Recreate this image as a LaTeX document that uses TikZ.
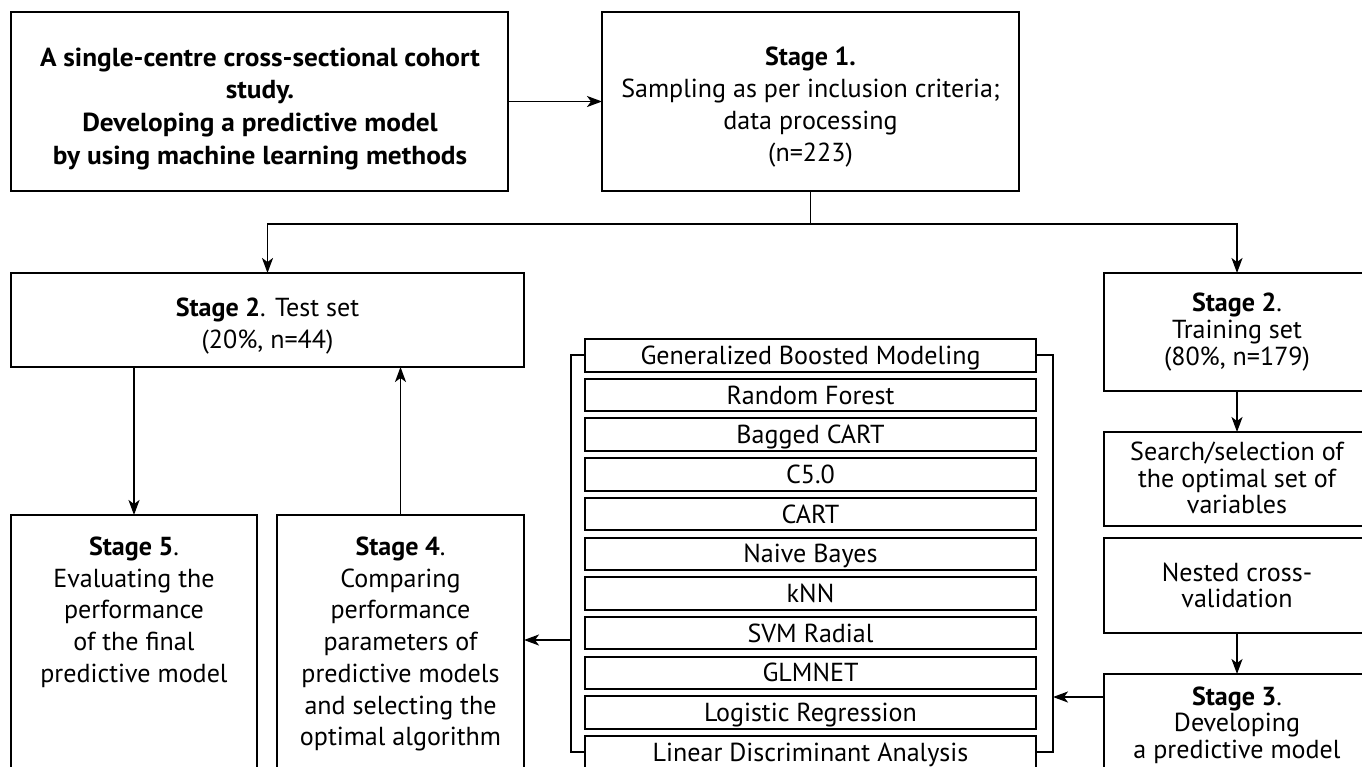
\documentclass[tikz,border=0pt]{standalone}
\usepackage{fontspec}
\setmainfont{PT Sans}
\usepackage{graphicx}
\usetikzlibrary{arrows.meta}
\newdimen\reflen
\newcommand\mylines[2]{{\fontsize{\fs}{#1}\selectfont\begin{tabular}[t]{@{}c@{}}#2\end{tabular}}}
\AtBeginDocument{%
  \settowidth\reflen{\normalfont\fontsize{20}{24}\selectfont Generalized Boosted Modeling}%
  \pgfmathsetmacro\fs{20*340/\the\reflen}%
  \pgfmathsetmacro\capht{0.7*\fs}%
  \settowidth\reflen{\normalfont\fontsize{\fs}{24}\selectfont\bfseries A single-centre cross-sectional cohort}%
  \pgfmathsetmacro\sxA{440/\the\reflen}%
}
\tikzset{
  box/.style={draw, line width=2pt, inner sep=0pt, outer sep=0pt, anchor=north west, rectangle},
  txt/.style={anchor=base, inner sep=0pt, outer sep=0pt},
  conn/.style={line width=1.8pt},
  arr/.style={conn, -{Stealth[length=15pt,width=11pt,inset=4pt]}},
  row/.style={draw, line width=2pt, inner sep=0pt, outer sep=0pt, minimum width=451pt, minimum height=32.5pt, anchor=north, text height=\capht pt, text depth=0pt, font=\fontsize{\fs}{\fs}\selectfont},
}
\begin{document}
\begin{tikzpicture}[x=1pt,y=-1pt]
\useasboundingbox (0,0) rectangle (1362,766);
\fill[white] (0,0) rectangle (1362,766);
\clip (0,0) rectangle (1362,766);
% boxes
\node[box, minimum width=497pt, minimum height=179pt] (A) at (11,12) {};
\node[box, minimum width=417pt, minimum height=179pt] (S1) at (602,12) {};
\node[box, minimum width=513pt, minimum height=94pt] (test) at (11,273) {};
\node[box, minimum width=266pt, minimum height=118pt] (train) at (1104,273) {};
\node[box, minimum width=266pt, minimum height=94pt] (search) at (1104,432) {};
\node[box, minimum width=266pt, minimum height=95pt] (nested) at (1104,538) {};
\node[box, minimum width=266pt, minimum height=130pt] (S3) at (1104,674) {};
\node[box, minimum width=247pt, minimum height=290pt] (S4) at (277,515) {};
\node[box, minimum width=246pt, minimum height=290pt] (S5) at (11,515) {};
% texts
\node[txt] (At) at (260,66) {\scalebox{\sxA}[1]{\bfseries\mylines{32.7}{A single-centre cross-sectional cohort\\study.\\Developing a predictive model\\by using machine learning methods}}};
\node[txt] (S1t) at (810.5,65.5) {\mylines{32}{\textbf{Stage 1.}\\Sampling as per inclusion criteria;\\data processing\\(n=223)}};
\node[txt] (testt) at (267.5,316.5) {\mylines{32}{\textbf{Stage 2}. Test set\\(20\%, n=44)}};
\node[txt] (traint) at (1237,311.5) {\mylines{27}{\textbf{Stage 2}.\\Training set\\(80\%, n=179)}};
\node[txt] (searcht) at (1237,460.5) {\mylines{26.5}{Search/selection of\\the optimal set of\\variables}};
\node[txt] (nestedt) at (1237,581.5) {\mylines{25.5}{Nested cross-\\validation}};
\node[txt] (S3t) at (1237,705) {\mylines{26.5}{\textbf{Stage 3}.\\Developing\\a predictive model}};
\node[txt] (S4t) at (400.5,555.5) {\mylines{31.7}{\textbf{Stage 4}.\\Comparing\\performance\\parameters of\\predictive models\\and selecting the\\optimal algorithm}};
\node[txt] (S5t) at (134,555.5) {\mylines{31.7}{\textbf{Stage 5}.\\Evaluating the\\performance\\of the final\\predictive model}};
% algorithm list
\foreach \t [count=\i from 0] in {Generalized Boosted Modeling, Random Forest, Bagged CART, C5.0, CART, Naive Bayes, kNN, SVM Radial, GLMNET, Logistic Regression, Linear Discriminant Analysis}
  \node[row] (r\i) at (810.5,{339+39.7*\i}) {\t};
% bracket
\draw[conn] (r0.west) -- ++(-14,0) |- (r10.west);
\draw[conn] (r0.east) -- ++(17,0) |- (r10.east);
\coordinate (bl) at (571,640);
\coordinate (br) at (1053,697);
\coordinate (sp) at (810.5,224);
% connectors
\draw[arr] (A.east) -- (S1.west);
\draw[conn] (S1.south) -- (sp);
\draw[arr] (sp) -| (test.north);
\draw[arr] (sp) -| (train.north);
\draw[arr] (train.south) -- (search.north);
\draw[arr] (nested.south) -- (S3.north);
\draw[arr] (S5.north |- test.south) -- (S5.north);
\draw[arr] (S4.north) -- (S4.north |- test.south);
\draw[arr] (bl) -- (bl -| S4.east);
\draw[arr] (br -| S3.west) -- (br);
\end{tikzpicture}
\end{document}
